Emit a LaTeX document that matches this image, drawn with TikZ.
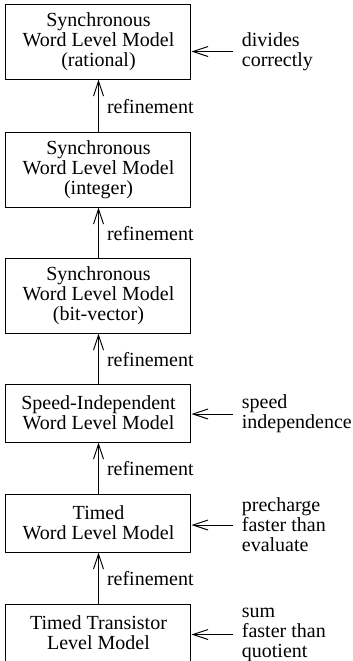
\documentclass[tikz,border=0pt]{standalone}
\usepackage{fontspec}
\setmainfont{Liberation Serif}
\usetikzlibrary{positioning,arrows.meta}

\begin{document}
\begin{tikzpicture}[
  x=0.5pt, y=-0.5pt,
  model/.style={rectangle, draw=black, line width=0.5pt, align=center,
                minimum width=92.5pt, inner sep=2pt,
                font=\fontsize{10}{10}\selectfont},
  tall/.style={model, minimum height=37.5pt},
  flat/.style={model, minimum height=29pt},
  arr/.style={-{Straight Barb[length=7.5pt, width=5pt]}, line width=0.5pt},
  note/.style={align=left, inner sep=4pt, font=\fontsize{10}{10}\selectfont},
  refn/.style={right, pos=0.48, inner sep=4pt, font=\fontsize{10}{10}\selectfont}
]
\useasboundingbox (0,0) rectangle (353,661);

\node[tall] (rational) at (98.5,41.5)
  {Synchronous\\ Word Level Model\\ (rational)};
\node[tall, below=26pt of rational] (integer)
  {Synchronous\\ Word Level Model\\ (integer)};
\node[tall, below=25pt of integer] (bitvec)
  {Synchronous\\ Word Level Model\\ (bit-vector)};
\node[flat, below=25pt of bitvec] (speedind)
  {Speed-Independent\\ Word Level Model};
\node[flat, below=25.5pt of speedind] (timed)
  {Timed\\ Word Level Model};
\node[flat, below=25.5pt of timed] (transistor)
  {Timed Transistor\\ Level Model};

% refinement steps
\draw[arr] (integer) -- node[refn] {refinement} (rational);
\draw[arr] (bitvec) -- node[refn] {refinement} (integer);
\draw[arr] (speedind) -- node[refn] {refinement} (bitvec);
\draw[arr] (timed) -- node[refn] {refinement} (speedind);
\draw[arr] (transistor) -- node[refn] {refinement} (timed);

% assumptions
\node[note, anchor=west, right=21pt of rational, yshift=-5pt] (divides)
  {divides\\ correctly};
\node[note, right=21pt of speedind, yshift=-0.5pt] (speed)
  {speed\\ independence};
\node[note, right=21pt of timed, yshift=-1pt] (precharge)
  {precharge\\ faster than\\ evaluate};
\node[note, right=21pt of transistor, yshift=-0.75pt] (sum)
  {sum\\ faster than\\ quotient};

\draw[arr] (divides.west) -- (divides.west -| rational.east);
\draw[arr] (speed.west) -- (speed.west -| speedind.east);
\draw[arr] (precharge.west) -- (precharge.west -| timed.east);
\draw[arr] (sum.west) -- (sum.west -| transistor.east);
\end{tikzpicture}
\end{document}
